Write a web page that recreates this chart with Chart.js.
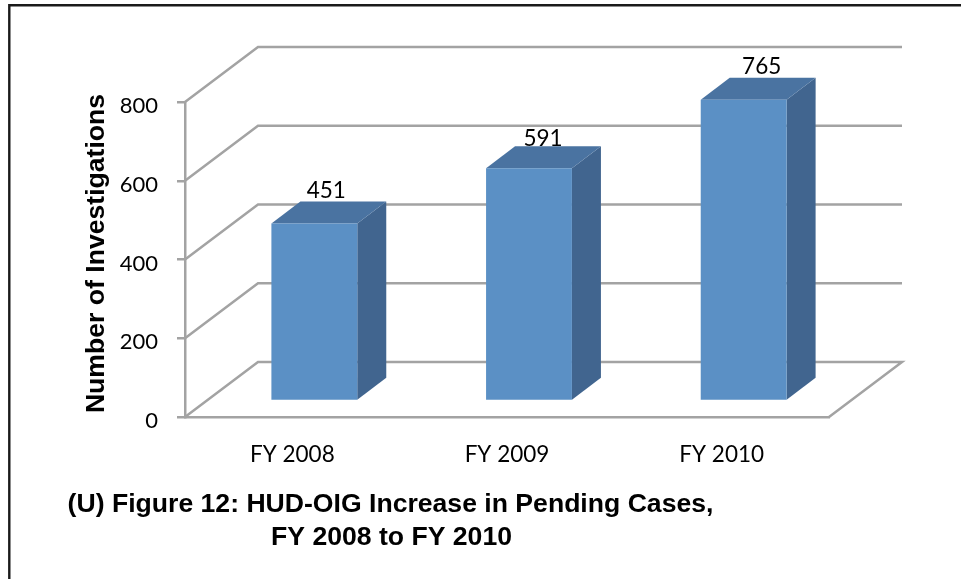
<!DOCTYPE html>
<html>
<head>
<meta charset="utf-8">
<style>html,body{margin:0;padding:0;background:#fff}canvas{display:block}</style>
<script src="https://cdn.jsdelivr.net/npm/chart.js@4"></script>
</head>
<body>
<canvas id="c" width="961" height="579"></canvas>
<script>
const categories = ["FY 2008", "FY 2009", "FY 2010"];
const investigations = [451, 591, 765];
const yTicks = [0, 200, 400, 600, 800];
const yTitle = "Number of Investigations";
const captionLines = ["(U) Figure 12: HUD-OIG Increase in Pending Cases,", "FY 2008 to FY 2010"];

// 3D projection of the floor and bar placement in it
const WALL_DX = 73, WALL_DY = -55;
const BAR_SHIFT_X = 22, BAR_SHIFT_Y = -16;
const BAR_DX = 29, BAR_DY = -22;
const labelNudgeX = [12, 14, 18], labelNudgeY = [-3, 0, -3.5];
const GRID = "#a3a3a3";

const walls3d = {
  id: "walls3d",
  beforeDatasetsDraw(chart) {
    const {ctx, chartArea: a, scales: {y}} = chart;
    ctx.save();
    ctx.strokeStyle = GRID;
    ctx.lineWidth = 2.5;
    yTicks.forEach(v => {
      const p = y.getPixelForValue(v);
      ctx.beginPath();
      ctx.moveTo(a.left, p);
      ctx.lineTo(a.left + WALL_DX, p + WALL_DY);
      ctx.lineTo(a.right + WALL_DX, p + WALL_DY);
      if (v === 0) ctx.lineTo(a.right, p);
      ctx.stroke();
    });
    ctx.restore();
  }
};

const bars3d = {
  id: "bars3d",
  beforeDatasetDraw(chart, args) {
    const ctx = chart.ctx;
    ctx.save();
    ctx.translate(BAR_SHIFT_X, BAR_SHIFT_Y);
    args.meta.data.forEach(bar => {
      const l = bar.x - bar.width / 2, r = bar.x + bar.width / 2, t = bar.y, b = bar.base;
      ctx.fillStyle = "#41658f";
      ctx.beginPath();
      ctx.moveTo(r, t); ctx.lineTo(r + BAR_DX, t + BAR_DY);
      ctx.lineTo(r + BAR_DX, b + BAR_DY); ctx.lineTo(r, b);
      ctx.closePath(); ctx.fill();
      ctx.fillStyle = "#4a73a1";
      ctx.beginPath();
      ctx.moveTo(l, t); ctx.lineTo(l + BAR_DX, t + BAR_DY);
      ctx.lineTo(r + BAR_DX, t + BAR_DY); ctx.lineTo(r, t);
      ctx.closePath(); ctx.fill();
    });
  },
  afterDatasetDraw(chart, args) {
    const ctx = chart.ctx;
    ctx.restore();
    ctx.save();
    ctx.fillStyle = "#000";
    ctx.font = '22.5px Lato';
    ctx.textAlign = "center";
    ctx.textBaseline = "alphabetic";
    args.meta.data.forEach((bar, i) => {
      ctx.fillText(String(investigations[i]),
        bar.x + BAR_SHIFT_X + labelNudgeX[i],
        bar.y + BAR_SHIFT_Y + BAR_DY + labelNudgeY[i]);
    });
    ctx.restore();
  }
};

const frameAndText = {
  id: "frameAndText",
  afterDraw(chart) {
    const ctx = chart.ctx;
    ctx.save();
    ctx.strokeStyle = "#1a1a1a";
    ctx.lineWidth = 2.4;
    ctx.beginPath();
    ctx.moveTo(9.3, 579); ctx.lineTo(9.3, 5.3); ctx.lineTo(961, 5.3);
    ctx.stroke();
    ctx.fillStyle = "#000";
    ctx.font = 'bold 26.6px "Liberation Sans"';
    ctx.textAlign = "center";
    ctx.textBaseline = "alphabetic";
    ctx.fillText(captionLines[0], 390.5, 512.3);
    ctx.fillText(captionLines[1], 391.5, 544.5);
    ctx.translate(103.5, 253.5);
    ctx.rotate(-Math.PI / 2);
    ctx.fillText(yTitle, 0, 0);
    ctx.restore();
  }
};

new Chart(document.getElementById("c"), {
  type: "bar",
  data: {
    labels: categories,
    datasets: [{
      data: investigations,
      backgroundColor: "#5b90c5",
      borderWidth: 0,
      categoryPercentage: 0.4,
      barPercentage: 1
    }]
  },
  plugins: [walls3d, bars3d, frameAndText],
  options: {
    responsive: false,
    animation: false,
    layout: {padding: {left: 100, right: 132, top: 102, bottom: 112}},
    plugins: {legend: {display: false}, title: {display: false}, tooltip: {enabled: false}},
    scales: {
      x: {
        afterFit: s => { s.height = 50; },
        grid: {display: false},
        border: {color: GRID, width: 2.5},
        ticks: {color: "#000", padding: 16, font: {family: "Lato", size: 22.5}, maxRotation: 0}
      },
      y: {
        min: 0, max: 800,
        afterFit: s => { s.width = 85; },
        afterBuildTicks: s => { s.ticks = yTicks.map(v => ({value: v})); },
        grid: {drawOnChartArea: false, color: GRID, tickColor: GRID, lineWidth: 2.5, tickLength: 8},
        border: {color: GRID, width: 2.5},
        ticks: {color: "#000", padding: 19, labelOffset: 4, font: {family: "Lato", size: 22}}
      }
    }
  }
});
</script>
</body>
</html>
